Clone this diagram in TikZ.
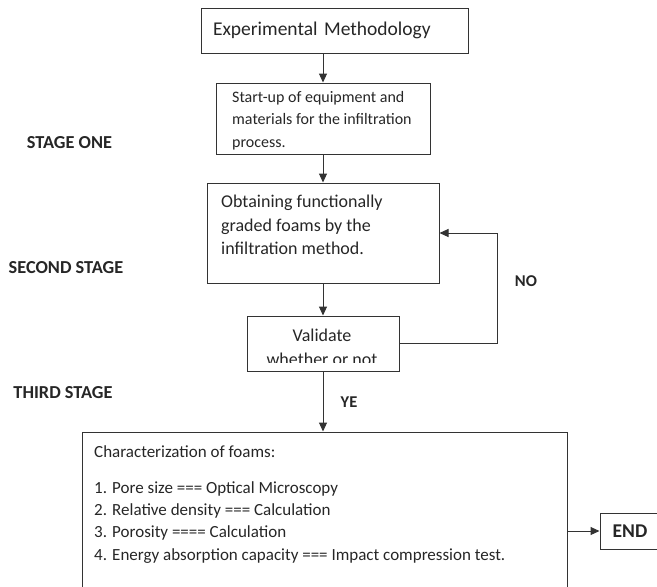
\documentclass[tikz,border=0pt]{standalone}
\usepackage{fontspec}
\setmainfont{Carlito}
\usetikzlibrary{arrows.meta}

\tikzset{
  box/.style={draw=black!80, line width=1pt, rectangle, inner sep=0pt},
  body/.style={font=\fontsize{16}{22.5}\selectfont, text=black!85},
  stage/.style={font=\fontsize{18.3}{20}\selectfont\bfseries, text=black!85},
  arr/.style={draw=black!80, line width=1pt, -{Triangle[length=9pt,width=8pt]}}
}

\begin{document}
\begin{tikzpicture}[x=1pt,y=-1pt]
  \useasboundingbox (0,0) rectangle (657,587);
  % boxes
  \node[box, minimum width=267, minimum height=45, text width=243, inner xsep=12, align=left,
        font=\fontsize{19.5}{24}\selectfont, text=black!85] (meth) at (334.5,30.5) {Experimental Methodology};
  \node[box, minimum width=214, minimum height=71] (start) at (323,118.5) {};
  \node[body, anchor=north west, align=left, inner sep=0pt] (starttxt) at (232,91)
    {Start-up of equipment and\\ materials for the infiltration\\ process.};
  \node[box, minimum width=232, minimum height=100] (grade) at (323,233) {};
  \node[body, font=\fontsize{18}{23.5}\selectfont, anchor=north west, align=left, inner sep=0pt] (gradetxt) at (221,195)
    {Obtaining functionally\\ graded foams by the\\ infiltration method.};
  \node[box, minimum width=152, minimum height=55] (valid) at (323,343.5) {};
  \begin{scope}
    \clip (247,316) rectangle (399,362);
    \node[body, font=\fontsize{18}{24}\selectfont, align=center, inner sep=0pt, anchor=north] (validtxt) at (322,329)
      {Validate\\ whether or not};
  \end{scope}
  \node[box, minimum width=485, minimum height=170] (charac) at (324.5,517) {};
  \node[body, font=\fontsize{17}{22.3}\selectfont, anchor=north west, align=left, inner sep=0pt] (charactxt) at (94,445)
    {Characterization of foams:\\[14pt]
     1. Pore size === Optical Microscopy\\
     2. Relative density === Calculation\\
     3. Porosity ==== Calculation\\
     4. Energy absorption capacity === Impact compression test.};
  \node[box, minimum width=60, minimum height=36, font=\fontsize{19.5}{22}\selectfont\bfseries, text=black!85] (fin) at (630,531) {END};
  % stages
  \node[stage] (one) at (69.5,143) {STAGE ONE};
  \node[stage] (two) at (66,268) {SECOND STAGE};
  \node[stage] (three) at (63,393) {THIRD STAGE};
  % arrows
  \draw[arr] (meth.south -| start.north) -- (start.north);
  \draw[arr] (start) -- (grade);
  \draw[arr] (grade) -- (valid);
  \draw[arr] (valid.south) -- (charac.north -| valid.south);
  \draw[arr] (valid.east) -- ++(98,0) |- (grade.east);
  \draw[arr] (charac.east |- fin.west) -- (fin.west);
  \node[stage, font=\fontsize{16.5}{20}\selectfont\bfseries] (no) at (526,281) {NO};
  \node[stage, font=\fontsize{16.5}{20}\selectfont\bfseries] (yes) at (349,402) {YE};
\end{tikzpicture}
\end{document}
